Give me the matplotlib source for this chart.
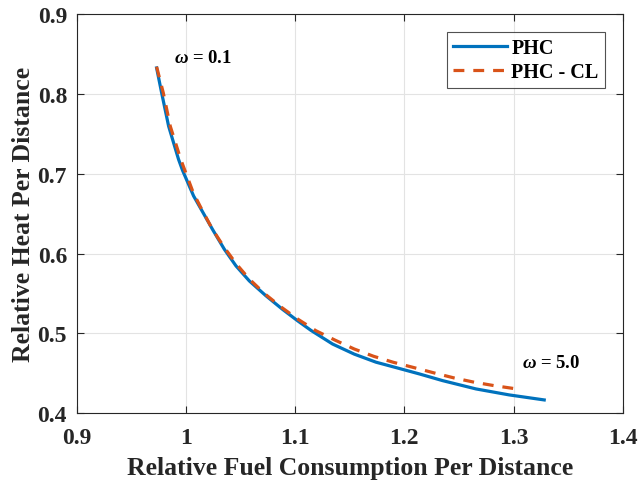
import matplotlib
matplotlib.use("Agg")
import matplotlib.pyplot as plt

plt.rcParams["font.family"] = ["Liberation Serif", "DejaVu Serif"]
plt.rcParams["font.weight"] = "bold"
plt.rcParams["mathtext.fontset"] = "custom"
plt.rcParams["mathtext.it"] = "Liberation Serif:italic:bold"
plt.rcParams["mathtext.rm"] = "Liberation Serif:bold"

# PHC curve
phc_x = [0.9731, 0.9777, 0.9841, 0.9932, 0.9969, 1.0070, 1.0122, 1.0244, 1.0351,
         1.0458, 1.0580, 1.0733, 1.0885, 1.1022, 1.1145, 1.1343, 1.1541, 1.1740,
         1.1938, 1.2137, 1.2350, 1.2656, 1.2960, 1.3281]
phc_y = [0.8325, 0.8013, 0.7595, 0.7179, 0.7040, 0.6720, 0.6595, 0.6300, 0.6054,
         0.5845, 0.5657, 0.5470, 0.5300, 0.5158, 0.5037, 0.4866, 0.4740, 0.4639,
         0.4566, 0.4492, 0.4408, 0.4304, 0.4229, 0.4166]

# PHC - CL curve
cl_x = [0.9731, 0.9792, 0.9856, 0.9952, 1.0067, 1.0152, 1.0244, 1.0351,
        1.0463, 1.0580, 1.0726, 1.0875, 1.1013, 1.1190, 1.1364, 1.1541, 1.1718,
        1.1898, 1.2091, 1.2274, 1.2457, 1.2640, 1.2823, 1.3068]
cl_y = [0.8340, 0.8013, 0.7595, 0.7179, 0.6760, 0.6533, 0.6300, 0.6075,
        0.5866, 0.5680, 0.5490, 0.5326, 0.5188, 0.5033, 0.4916, 0.4804, 0.4713,
        0.4638, 0.4570, 0.4504, 0.4441, 0.4388, 0.4345, 0.4296]

fig = plt.figure(figsize=(6.4, 4.85), dpi=100)
ax = fig.add_axes([0.120, 0.146, 0.853, 0.823])

ax.plot(phc_x, phc_y, color="#0072BD", linewidth=2.3, label="PHC")
ax.plot(cl_x, cl_y, color="#D95319", linewidth=2.3, linestyle=(0, (3.4, 2.8)),
        label="PHC - CL")

ax.text(0.9890, 0.846, r"$\omega$ = 0.1", fontsize=13.5, fontweight="bold", va="center")
ax.text(1.308, 0.464, r"$\omega$ = 5.0", fontsize=13.5, fontweight="bold", va="center")

ax.set_xlim(0.9, 1.4)
ax.set_ylim(0.4, 0.9)
ax.set_xticks([0.9, 1.0, 1.1, 1.2, 1.3, 1.4])
ax.set_xticklabels(["0.9", "1", "1.1", "1.2", "1.3", "1.4"])
ax.set_yticks([0.4, 0.5, 0.6, 0.7, 0.8, 0.9])
ax.set_yticklabels(["0.4", "0.5", "0.6", "0.7", "0.8", "0.9"])
ax.tick_params(direction="in", top=True, right=True, labelsize=17, length=5,
               width=0.8, colors="#262626")
ax.tick_params(axis="x", pad=10)
ax.tick_params(axis="y", pad=7)
ax.grid(True, color="#e3e3e3", linewidth=0.8)
ax.set_axisbelow(True)
for s in ax.spines.values():
    s.set_color("#262626")
    s.set_linewidth(0.8)

ax.set_xlabel("Relative Fuel Consumption Per Distance", fontsize=18.5,
              fontweight="bold", color="#262626", labelpad=6)
ax.set_ylabel("Relative Heat Per Distance", fontsize=18.5, fontweight="bold",
              color="#262626", labelpad=2)

leg = ax.legend(loc="upper right", fontsize=14.5, frameon=True, fancybox=False,
                borderaxespad=0.9, handlelength=2.7, handletextpad=0.2,
                borderpad=0.3, labelspacing=0.2)
leg.get_frame().set_edgecolor("#262626")
leg.get_frame().set_linewidth(0.8)
for t in leg.get_texts():
    t.set_fontweight("bold")

fig.savefig("out.png", dpi=100)
